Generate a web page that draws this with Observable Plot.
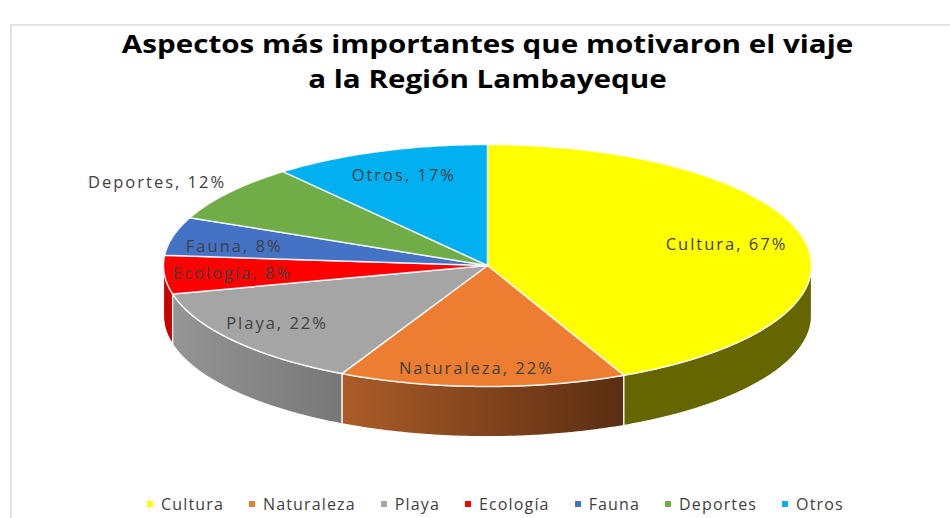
<!DOCTYPE html>
<html lang="es">
<head>
<meta charset="utf-8">
<script src="https://cdn.jsdelivr.net/npm/d3@7"></script>
<script src="https://cdn.jsdelivr.net/npm/@observablehq/plot@0.6"></script>
<style>
  html, body { margin: 0; padding: 0; background: #fff; width: 950px; height: 518px; overflow: hidden; }
  #frame { position: absolute; left: 10px; top: 24px; width: 960px; height: 510px; border: 2px solid #e2e2e2; box-sizing: border-box; }
  #page { position: absolute; left: 0; top: 0; width: 950px; height: 518px; font-family: "Open Sans", sans-serif; }
  #title { height: 75px; padding-top: 26px; text-align: center; font-weight: 700; font-size: 25.5px; line-height: 35px; color: #000; width: 975px; white-space: nowrap; transform: scaleX(1.16); transform-origin: 487.5px 0; }
  #chart svg { display: block; background: transparent; }
  #chart { height: 365px; }
  #legend { display: flex; justify-content: flex-start; margin-left: 147px; margin-top: 27px; font-size: 16px; letter-spacing: 1.15px; color: #404040; line-height: 22px; }
  #legend .item { display: flex; align-items: center; margin-right: 25px; white-space: nowrap; }
  #legend .sw { width: 6px; height: 6px; margin-right: 8px; display: inline-block; }
</style>
</head>
<body>
<div id="frame"></div>
<div id="page">
  <div id="title">Aspectos más importantes que motivaron el viaje<br>a la Región Lambayeque</div>
  <div id="chart"></div>
  <div id="legend"></div>
</div>
<script>
const categories = ["Cultura", "Naturaleza", "Playa", "Ecología", "Fauna", "Deportes", "Otros"];
const values = [67.4, 22.4, 21.6, 8, 8, 12, 17];
const topColors = ["#FFFF00", "#ED7D31", "#A5A5A5", "#FF0000", "#4472C4", "#70AD47", "#00B0F0"];
const sideFills = ["#666600", "url(#sideNaturaleza)", "url(#sidePlaya)", "#CC0000", "#2F5597", "#4E7A31", "#007BA8"];
const gradients = [
  {id: "sideNaturaleza", from: "#AB5C28", to: "#5A2D12"},
  {id: "sidePlaya", from: "#959595", to: "#777777"}
];
const labelOutside = ["Deportes"];
const labelDx = [-11, -7, -10, 0, -5, -15, 2];
const labelDy = [0, 8, -1, 1, 4, 6, 0];

const depth = 0.415;
const total = d3.sum(values);
const cum = d3.cumsum(values);
const slices = categories.map((name, i) => ({
  name, value: values[i], i,
  a0: ((i ? cum[i - 1] : 0) / total) * 2 * Math.PI,
  a1: (cum[i] / total) * 2 * Math.PI
}));
const px = (a, r = 1) => r * Math.sin(a);
const py = (a, r = 1) => r * Math.cos(a);
function arc(a0, a1) {
  const n = Math.max(2, Math.ceil((a1 - a0) / 0.01));
  return d3.range(n + 1).map(k => a0 + (a1 - a0) * k / n);
}
const topPoly = s => [[0, 0], ...arc(s.a0, s.a1).map(a => [px(a), py(a)]), [0, 0]];
function sidePoly(s) {
  const a0 = Math.max(s.a0, Math.PI / 2), a1 = Math.min(s.a1, 3 * Math.PI / 2);
  if (a1 <= a0) return null;
  const pts = arc(a0, a1);
  return [...pts.map(a => [px(a), py(a)]), ...pts.slice().reverse().map(a => [px(a), py(a) - depth]), [px(a0), py(a0)]];
}
const defs = () => {
  const d = d3.create("svg:defs");
  gradients.forEach(g => {
    const lg = d.append("linearGradient").attr("id", g.id);
    lg.append("stop").attr("offset", "0%").attr("stop-color", g.from);
    lg.append("stop").attr("offset", "100%").attr("stop-color", g.to);
  });
  return d.node();
};
const sideMarks = slices.filter(s => sidePoly(s)).map(s =>
  Plot.line(sidePoly(s), {x: d => d[0], y: d => d[1], fill: sideFills[s.i], stroke: "#fff", strokeWidth: 1.2, curve: "linear"}));
const topMarks = slices.map(s =>
  Plot.line(topPoly(s), {x: d => d[0], y: d => d[1], fill: topColors[s.i], stroke: "#fff", strokeWidth: 1.5, strokeOpacity: 0.85, curve: "linear"}));
const labelMarks = slices.map(s => {
  const m = (s.a0 + s.a1) / 2, r = labelOutside.includes(s.name) ? 1.22 : 0.79;
  return Plot.text([{text: `${s.name}, ${Math.round(s.value)}%`, x: px(m, r), y: py(m, r)}], {
    x: "x", y: "y", text: "text", fill: "#404040", fontSize: 16.5,
    fontFamily: "'Open Sans', sans-serif", dx: labelDx[s.i], dy: labelDy[s.i]
  });
});
const plot = Plot.plot({
  width: 950, height: 365,
  marginLeft: 0, marginRight: 0, marginTop: 0, marginBottom: 0,
  x: {domain: [-1, 1], range: [163, 811], axis: null},
  y: {domain: [1, -1], range: [43, 285], axis: null},
  style: {background: "transparent", overflow: "visible"},
  marks: [
    defs,
    ...sideMarks,
    ...topMarks,
    ...labelMarks
  ]
});
plot.querySelectorAll("text").forEach(t => t.style.letterSpacing = "2px");
document.getElementById("chart").append(plot);

const legend = d3.select("#legend");
categories.forEach((c, i) => {
  const it = legend.append("div").attr("class", "item");
  it.append("span").attr("class", "sw").style("background", topColors[i]);
  it.append("span").text(c);
});
</script>
</body>
</html>
